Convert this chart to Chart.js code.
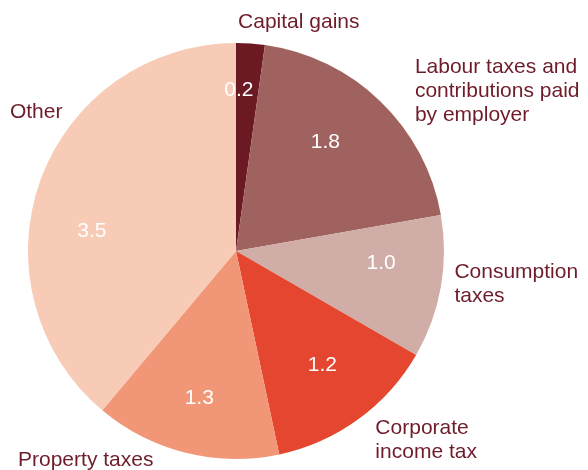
<!DOCTYPE html>
<html>
<head>
<meta charset="utf-8">
<script src="https://cdn.jsdelivr.net/npm/chart.js@4"></script>
<style>
  html, body { margin: 0; padding: 0; background: #fff; }
  #wrap { width: 588px; height: 470px; }
</style>
</head>
<body>
<div id="wrap"><canvas id="myChart"></canvas></div>
<script>
var categories = ['Capital gains', 'Labour taxes and contributions paid by employer', 'Consumption taxes', 'Corporate income tax', 'Property taxes', 'Other'];
var labelLines = [['Capital gains'], ['Labour taxes and', 'contributions paid', 'by employer'], ['Consumption', 'taxes'], ['Corporate', 'income tax'], ['Property taxes'], ['Other']];
var values = [0.2, 1.8, 1.0, 1.2, 1.3, 3.5];
var colours = ['#6b1923', '#a0625e', '#d0ada7', '#e4462f', '#f19777', '#f8cbb6'];

var textColour = '#6e1c2a';
var font = '21px "Liberation Sans", Arial, sans-serif';

// where each outside label sits, in units of the radius from the centre (left edge, first baseline)
var outside = [[0.01, -1.072], [0.86, -0.856], [1.05, 0.13], [0.67, 0.88], [-1.048, 1.036], [-1.087, -0.64]];
// small angle nudges (degrees) and radius factors for the numbers inside slices
var nudge = [-3, -4.5, -5, -1, 0, -12];
var depth = [0.775, 0.675, 0.7, 0.69, 0.73, 0.7];

var sliceLabels = {
    id: 'sliceLabels',
    afterDatasetsDraw: function (chart) {
        var c = chart.ctx;
        var arcs = chart.getDatasetMeta(0).data;
        c.save();
        c.font = font;
        c.textBaseline = 'middle';
        c.textAlign = 'center';
        c.fillStyle = '#ffffff';
        arcs.forEach(function (arc, i) {
            var mid = (arc.startAngle + arc.endAngle) / 2 + nudge[i] * Math.PI / 180;
            var r = arc.outerRadius * depth[i];
            var x = arc.x + Math.cos(mid) * r;
            var y = arc.y + Math.sin(mid) * r;
            c.fillText(values[i].toFixed(1), x, y);
        });

        c.textBaseline = 'alphabetic';
        c.textAlign = 'left';
        c.fillStyle = textColour;
        arcs.forEach(function (arc, i) {
            var x = arc.x + outside[i][0] * arc.outerRadius;
            var y = arc.y + outside[i][1] * arc.outerRadius;
            labelLines[i].forEach(function (line, k) {
                c.fillText(line, x, y + k * 24);
            });
        });
        c.restore();
    }
};

new Chart(document.getElementById('myChart'), {
    type: 'pie',
    data: {
        labels: categories,
        datasets: [{
            data: values,
            backgroundColor: colours,
            borderWidth: 0
        }]
    },
    options: {
        responsive: true,
        maintainAspectRatio: false,
        animation: false,
        layout: { padding: { left: 28, right: 144, top: 43, bottom: 11 } },
        plugins: {
            legend: { display: false },
            tooltip: { enabled: false }
        }
    },
    plugins: [sliceLabels]
});
</script>
</body>
</html>
